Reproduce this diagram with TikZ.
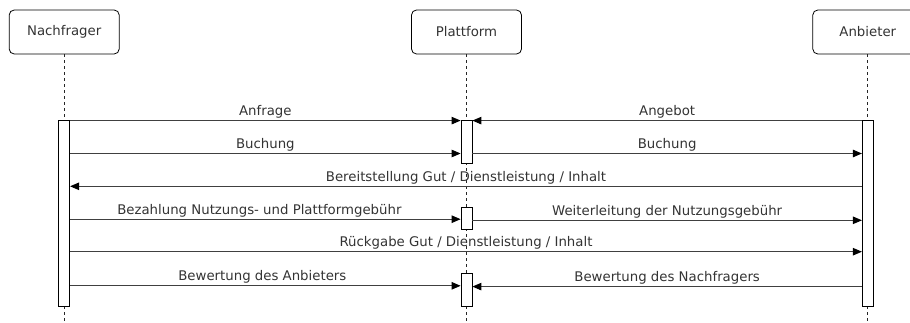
\documentclass[tikz,border=0pt]{standalone}
\usepackage{fontspec}
\setmainfont{DejaVu Sans}
\usetikzlibrary{arrows.meta,calc}
\begin{document}
\begin{tikzpicture}[x=1pt,y=-1pt,
  actor/.style={draw=black, rounded corners=5pt, minimum width=110pt, minimum height=44pt,
    inner sep=0pt, font=\fontsize{13.3}{15}\selectfont, text=black!80, line width=0.8pt},
  bar/.style={draw=black, fill=white, minimum width=11pt, inner sep=0pt, line width=0.8pt},
  life/.style={draw=black!85, dash pattern=on 3pt off 3pt, line width=0.8pt},
  msg/.style={draw=black!75, line width=0.9pt, -{Triangle[length=9pt,width=7.5pt,color=black]}},
  lbl/.style={anchor=base, inner sep=0pt, font=\fontsize{13.3}{15}\selectfont, text=black!80}
]
\useasboundingbox (0,0) rectangle (910,323);
\clip (0,0) rectangle (910,323);
\coordinate (bot) at (0,323);
% actors
\node[actor] (nbox) at (64.2,32) {Nachfrager};
\node[actor] (pbox) at (466.5,32) {Plattform};
\node[actor] (abox) at (867.8,32) {Anbieter};
% activation bar positions
\coordinate (nbc) at (64.2,213);
\coordinate (p1c) at (466.5,141.8);
\coordinate (p2c) at (466.5,218.3);
\coordinate (p3c) at (466.5,290);
\coordinate (abc) at (867.8,213);
% lifelines
\path[life] (nbox.south) -- (nbox.south |- 0,120);
\path[life] (nbox.south |- 0,306) -- (nbox.south |- bot);
\path[life] (pbox.south) -- (pbox.south |- bot);
\path[life] (abox.south) -- (abox.south |- 0,120);
\path[life] (abox.south |- 0,306) -- (abox.south |- bot);
% bars
\node[bar, minimum height=186pt] (nb) at (nbc) {};
\node[bar, minimum height=43.5pt] (p1) at (p1c) {};
\node[bar, minimum height=22pt] (p2) at (p2c) {};
\node[bar, minimum height=33.4pt] (p3) at (p3c) {};
\node[bar, minimum height=186pt] (ab) at (abc) {};
% message levels
\coordinate (y1) at (0,120.6);
\coordinate (y2) at (0,153.5);
\coordinate (y3) at (0,186.3);
\coordinate (y4) at (0,219.2);
\coordinate (y4b) at (0,220.3);
\coordinate (y5) at (0,251.7);
\coordinate (y6) at (0,285.8);
\coordinate (y6b) at (0,286.6);
% messages
\draw[msg] (nb.east |- y1) -- (p1.west |- y1);
\draw[msg] (ab.west |- y1) -- (p1.east |- y1);
\draw[msg] (nb.east |- y2) -- (p1.west |- y2);
\draw[msg] (p1.east |- y2) -- (ab.west |- y2);
\draw[msg] (ab.west |- y3) -- (nb.east |- y3);
\draw[msg] (nb.east |- y4) -- (p2.west |- y4);
\draw[msg] (p2.east |- y4b) -- (ab.west |- y4b);
\draw[msg] (nb.east |- y5) -- (ab.west |- y5);
\draw[msg] (nb.east |- y6) -- (p3.west |- y6);
\draw[msg] (ab.west |- y6b) -- (p3.east |- y6b);
% labels
\node[lbl] (l1) at ($(nb.east |- y1)!0.5!(p1.west |- y1)+(0,-5)$) {Anfrage};
\node[lbl] (l2) at ($(ab.west |- y1)!0.5!(p1.east |- y1)+(0,-5)$) {Angebot};
\node[lbl] (l3) at ($(nb.east |- y2)!0.5!(p1.west |- y2)+(0,-5)$) {Buchung};
\node[lbl] (l4) at ($(p1.east |- y2)!0.5!(ab.west |- y2)+(0,-5)$) {Buchung};
\node[lbl] (l5) at ($(ab.west |- y3)!0.5!(nb.east |- y3)+(0,-5)$) {Bereitstellung Gut / Dienstleistung / Inhalt};
\node[lbl] (l6) at ($(nb.east |- y4)!0.5!(p2.west |- y4)+(-6,-5)$) {Bezahlung Nutzungs- und Plattformgebühr};
\node[lbl] (l7) at ($(p2.east |- y4b)!0.5!(ab.west |- y4b)+(0,-5)$) {Weiterleitung der Nutzungsgebühr};
\node[lbl] (l8) at ($(nb.east |- y5)!0.5!(ab.west |- y5)+(0,-5)$) {Rückgabe Gut / Dienstleistung / Inhalt};
\node[lbl] (l9) at ($(nb.east |- y6)!0.5!(p3.west |- y6)+(-3,-5)$) {Bewertung des Anbieters};
\node[lbl] (l10) at ($(ab.west |- y6b)!0.5!(p3.east |- y6b)+(0,-5)$) {Bewertung des Nachfragers};
\end{tikzpicture}
\end{document}
